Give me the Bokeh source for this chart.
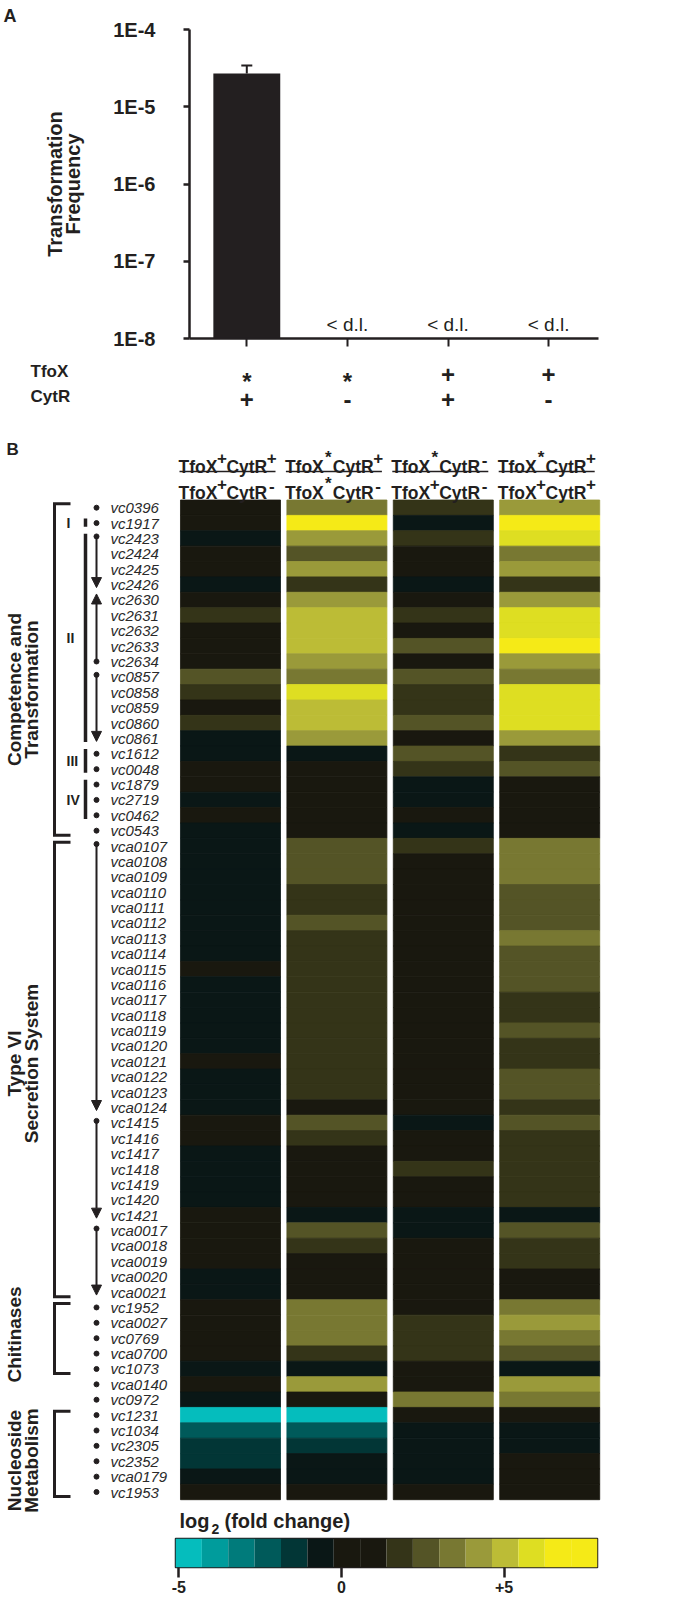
import numpy as np
from bokeh.plotting import figure
from bokeh.models import (Range1d, ColumnDataSource, LinearColorMapper,
                          FixedTicker, CustomJSTickFormatter, Arrow, NormalHead)
from bokeh.embed import file_html
from bokeh.resources import INLINE
from bokeh.core.properties import value

# ============================ DATA ============================
# ---- Panel A ----
A_TFOX = ["*", "*", "+", "+"]
A_CYTR = ["+", "-", "+", "-"]
A_ROW_NAMES = ["TfoX", "CytR"]
A_FREQ = [2.7e-5, None, None, None]
A_FREQ_UPPER = [3.42e-5, None, None, None]
A_DL_TEXT = "< d.l."
A_YTICKS = [1e-8, 1e-7, 1e-6, 1e-5, 1e-4]
A_YTITLE = "Transformation\nFrequency"

# ---- Panel B ----
GENES = ["vc0396", "vc1917", "vc2423", "vc2424", "vc2425", "vc2426", "vc2630",
         "vc2631", "vc2632", "vc2633", "vc2634", "vc0857", "vc0858", "vc0859",
         "vc0860", "vc0861", "vc1612", "vc0048", "vc1879", "vc2719", "vc0462",
         "vc0543",
         "vca0107", "vca0108", "vca0109", "vca0110", "vca0111", "vca0112",
         "vca0113", "vca0114", "vca0115", "vca0116", "vca0117", "vca0118",
         "vca0119", "vca0120", "vca0121", "vca0122", "vca0123", "vca0124",
         "vc1415", "vc1416", "vc1417", "vc1418", "vc1419", "vc1420", "vc1421",
         "vca0017", "vca0018", "vca0019", "vca0020", "vca0021",
         "vc1952", "vca0027", "vc0769", "vca0700", "vc1073", "vca0140", "vc0972",
         "vc1231", "vc1034", "vc2305", "vc2352", "vca0179", "vc1953"]

# header: (TfoX superscript, CytR superscript) for numerator / denominator
HEAD_TOP = [("+", "+"), ("*", "+"), ("*", "-"), ("*", "+")]
HEAD_BOTTOM = [("+", "-"), ("*", "-"), ("+", "-"), ("+", "+")]

# log2 fold change, one list per comparison column
LFC_1 = [0.3, 0.2, -0.6, 0.4, 0.3, -0.5, 0.2, 1.7, 0.4, 0.3, 0.5, 2.6, 1.8, 0.6,
         1.8, -0.5, -0.6, 0.3, 0.4, -0.5, 0.5, -0.6,
         -0.5, -0.6, -0.4, -0.5, -0.6, -0.5, -0.4, -0.5,
         0.2,
         -0.5, -0.6, -0.5, -0.4, -0.5,
         0.3,
         -0.5, -0.6, -0.5,
         0.3, 0.4,
         -0.5, -0.6, -0.5, -0.4,
         0.3, 0.2, 0.4, 0.3,
         -0.5, -0.6,
         0.4, 0.3, 0.5, 0.4,
         -0.6, 0.3, -0.5,
         -4.7, -2.2, -1.4, -1.5, -0.6, 0.4]
LFC_2 = [3.4, 6.9, 4.2, 2.6, 4.3, 1.8, 4.1, 5.0, 5.1, 4.9, 4.2, 3.5, 5.9, 5.0,
         5.1, 4.3, -0.6, 0.4, 0.5, 0.3, 0.6, 0.2,
         2.7, 2.5, 2.6, 1.9, 1.7, 2.6,
         1.8, 1.7, 1.9, 1.8, 1.6, 1.8, 1.9, 1.7, 1.8, 2.0, 1.8,
         0.5, 2.5, 1.8,
         0.6, 0.4, 0.5, 0.3,
         -0.5, 2.6, 1.7, 0.4, 0.5, 0.3,
         3.4, 3.5, 3.3, 1.8, -0.6, 4.2, 0.5,
         -4.8, -2.3, -1.5, -0.6, -0.5, 0.3]
LFC_3 = [1.8, -0.6, 1.7, 0.4, 0.3, -0.5, 0.5, 1.8, 0.6, 2.6, 0.4, 2.5, 1.9, 1.7,
         2.6, 0.5, 2.4, 1.8, -0.5, -0.6, 0.3, -0.5,
         1.8,
         0.3, 0.4, 0.5, 0.3, 0.2, 0.4, 0.3, 0.5, 0.4, 0.3, 0.2, 0.4, 0.5, 0.3,
         0.4, 0.3, 0.5,
         -0.5, 0.4, 0.5, 1.7, 0.5, 0.4,
         -0.6, -0.5,
         0.3, 0.4, 0.5, 0.3, 0.6,
         1.8, 1.7, 1.9, 0.4, 0.5, 3.4,
         0.4, -0.5, -0.6, -0.5, -0.4, 0.3]
LFC_4 = [4.2, 6.8, 5.8, 3.4, 4.2, 1.8, 4.1, 5.9, 5.8, 6.7, 4.3, 3.4, 5.8, 5.9,
         5.7, 4.2, 1.8, 2.6, 0.4, 0.5, 0.3, 0.4,
         3.4, 3.5, 3.3, 2.6, 2.5, 2.7, 3.4, 2.6, 2.5, 2.6, 1.8, 1.9, 2.6, 1.8,
         1.7, 2.6, 2.5, 1.8, 2.6, 1.8, 1.9,
         1.8, 1.7, 1.8,
         -0.5, 2.6, 1.8, 1.7, 0.4, 0.5,
         3.4, 4.2, 3.5, 2.6, -0.6, 4.3, 3.4,
         0.4, -0.5, -0.6, 0.3, 0.4, 0.5]

# operons: (first row, last row, direction of transcription)
OPERONS = [(2, 5, "down"), (6, 10, "up"), (11, 15, "down"),
           (22, 39, "down"), (40, 46, "down"), (47, 51, "down")]
SUBGROUPS = [("I", 1, 1), ("II", 2, 15), ("III", 16, 17), ("IV", 18, 20)]
CATEGORIES = [(["Competence and", "Transformation"], 0, 21),
              (["Type VI", "Secretion System"], 22, 51),
              (["Chitinases"], 52, 56),
              (["Nucleoside", "Metabolism"], 59, 64)]

PALETTE = ["#05bdbd", "#009c9c", "#007b7b", "#005a5a", "#023636", "#0a1716",
           "#19180f", "#19180f", "#343418", "#545426", "#787832", "#9a9a3a",
           "#bcbc36", "#dede22", "#f5ea17", "#f5ea17"]
CB_LOW, CB_HIGH = -5.10, 7.87
CB_TICKS = [-5, 0, 5]
CB_TITLE = ("log", "2", "(fold change)")

# ============================ STYLE ============================
INK = "#231f20"
FONT_NAME = "Liberation Sans"
FONT = value(FONT_NAME)
W = 699

# ============================ PANEL A ============================
A_SLOPE, A_X0 = 100.6, 246.3          # px per category, px of first category
DEC_PX, A_TOP_PX = 77.25, 29.0        # px per decade, px of 1E-4
A_HEIGHT = 357


def ax(px):
    return (px - A_X0) / A_SLOPE


def ay(py):
    return 10 ** (-4 - (py - A_TOP_PX) / DEC_PX)


pa = figure(width=W, height=A_HEIGHT, y_axis_type="log",
            x_range=Range1d(ax(189), ax(598)),
            y_range=Range1d(A_YTICKS[0], A_YTICKS[-1]),
            min_border_left=189, min_border_right=W - 598,
            min_border_top=29, min_border_bottom=A_HEIGHT - 338,
            output_backend="svg", toolbar_location=None)
pa.outline_line_color = None
pa.grid.visible = False

pa.title.text = "A"
pa.title.align = "left"
pa.title.offset = -186
pa.title.standoff = 7
pa.title.text_font = FONT_NAME
pa.title.text_font_style = "bold"
pa.title.text_font_size = "18px"
pa.title.text_color = INK

bar_x = [i for i, f in enumerate(A_FREQ) if f is not None]
bar_top = [A_FREQ[i] for i in bar_x]
err_top = [A_FREQ_UPPER[i] for i in bar_x]
pa.vbar(x=bar_x, top=bar_top, bottom=A_YTICKS[0], width=0.665,
        fill_color=INK, line_color=None)
pa.segment(x0=bar_x, x1=bar_x, y0=bar_top, y1=err_top,
           line_color=INK, line_width=2)
cap = 5.5 / A_SLOPE
pa.segment(x0=[x - cap for x in bar_x], x1=[x + cap for x in bar_x],
           y0=err_top, y1=err_top, line_color=INK, line_width=2)

dl_x = [i for i, f in enumerate(A_FREQ) if f is None]
pa.text(x=dl_x, y=[ay(324)] * len(dl_x), text=[A_DL_TEXT] * len(dl_x),
        text_align="center", text_baseline="alphabetic", text_font=FONT,
        text_font_size="19px", text_color=INK)

ya = pa.yaxis[0]
ya.ticker = FixedTicker(ticks=A_YTICKS)
ya.formatter = CustomJSTickFormatter(code="return '1E' + Math.round(Math.log10(tick));")
ya.major_label_text_font = FONT_NAME
ya.major_label_text_font_style = "bold"
ya.major_label_text_font_size = "20px"
ya.major_label_text_color = INK
ya.major_label_standoff = 28
ya.axis_line_width = 2.5
ya.axis_line_color = INK
ya.major_tick_out = 6
ya.major_tick_in = 0
ya.major_tick_line_width = 2.5
ya.major_tick_line_color = INK
ya.minor_tick_line_color = None
ya.axis_label = A_YTITLE
ya.axis_label_text_font = FONT_NAME
ya.axis_label_text_font_style = "bold"
ya.axis_label_text_font_size = "20px"
ya.axis_label_text_color = INK
ya.axis_label_text_line_height = 0.85
ya.axis_label_standoff = 26

xa = pa.xaxis[0]
xa.ticker = FixedTicker(ticks=list(range(len(A_TFOX))))
xa.formatter = CustomJSTickFormatter(code="return '';")
xa.major_label_text_font_size = "8px"
xa.major_label_standoff = 0
xa.axis_line_width = 2.5
xa.axis_line_color = INK
xa.major_tick_out = 8
xa.major_tick_in = 0
xa.major_tick_line_width = 2
xa.major_tick_line_color = INK
xa.minor_tick_line_color = None

# ============================ PANEL B ============================
COL_PX, COL0_PX = 106.4, 230.0     # px per column, px centre of column 0
ROW_PX, ROW0_PX = 15.38, 499.5     # px per row, px top of row 0
B_TOP, B_BOTTOM = A_HEIGHT, 1537   # page rows covered by this figure


def bx(px):
    return (px - COL0_PX) / COL_PX


def by(py):
    return (py - ROW0_PX) / ROW_PX


pb = figure(width=W, height=B_BOTTOM - B_TOP,
            x_range=Range1d(bx(0), bx(W)),
            y_range=Range1d(by(B_BOTTOM), by(B_TOP)),
            x_axis_location=None, y_axis_location=None, min_border=0,
            output_backend="svg", toolbar_location=None)
pb.outline_line_color = None
pb.grid.visible = False
pb.extra_x_ranges = {"cat": Range1d(ax(0), ax(W))}

# --- panel A genotype table (drawn on panel A's categorical scale) ---
SYM_SHIFT = {"+": 0, "-": 0, "*": 7}
for syms, base in [(A_TFOX, 373.5), (A_CYTR, 399.0)]:
    pb.text(x=list(range(len(syms))), y=[by(base + SYM_SHIFT[s]) for s in syms],
            text=syms, x_range_name="cat", text_align="center",
            text_baseline="alphabetic", text_font=FONT, text_font_style="bold",
            text_font_size="24px", text_color=INK)
pb.text(x=[bx(30)] * 2, y=[by(371), by(396)], text=A_ROW_NAMES,
        text_align="left", text_baseline="alphabetic", text_font=FONT,
        text_font_style="bold", text_font_size="17px", text_color=INK)

pb.text(x=[bx(6)], y=[by(449)], text=["B"], text_align="left",
        text_baseline="alphabetic", text_font=FONT, text_font_style="bold",
        text_font_size="17px", text_color=INK)

# --- heatmap ---
cols = [LFC_1, LFC_2, LFC_3, LFC_4]
hx, hy, hv = [], [], []
for k, vals in enumerate(cols):
    for i, v in enumerate(vals):
        hx.append(k)
        hy.append(i + 0.5)
        hv.append(v)
mapper = LinearColorMapper(palette=PALETTE, low=CB_LOW, high=CB_HIGH)
cmap = {"field": "v", "transform": mapper}
pb.rect(x="x", y="y", width=0.94, height=1.0,
        source=ColumnDataSource(dict(x=hx, y=hy, v=hv)),
        fill_color=cmap, line_color=cmap, line_width=0.8)

# --- column headers ---
HEAD_FS, SUP_FS = 17.5, 17
W_TFOX, W_CYTR, SUP_SLOT = 2.222 * HEAD_FS, 2.333 * HEAD_FS, 9.0
SUP_RAISE = {"+": 9, "*": 9, "-": 7}
mx, my, mt, sx, sy, st, ux0, ux1, uy = [], [], [], [], [], [], [], [], []
for k in range(len(cols)):
    for sups, base in [(HEAD_TOP[k], 466), (HEAD_BOTTOM[k], 492)]:
        x0 = -52
        offs_main = [0, W_TFOX + SUP_SLOT]
        offs_sup = [W_TFOX + SUP_SLOT / 2, W_TFOX + SUP_SLOT + W_CYTR + SUP_SLOT / 2]
        for t, o in zip(["TfoX", "CytR"], offs_main):
            mx.append(k + (x0 + o) / COL_PX)
            my.append(by(base))
            mt.append(t)
        for s, o in zip(sups, offs_sup):
            sx.append(k + (x0 + o) / COL_PX)
            sy.append(by(base - SUP_RAISE[s]))
            st.append(s)
    ux0.append(k + (-52 + 1) / COL_PX)
    ux1.append(k + (-52 + 97) / COL_PX)
    uy.append(by(471))
pb.text(x=mx, y=my, text=mt, text_align="left", text_baseline="alphabetic",
        text_font=FONT, text_font_style="bold", text_font_size=f"{HEAD_FS}px",
        text_color=INK)
pb.text(x=sx, y=sy, text=st, text_align="center", text_baseline="alphabetic",
        text_font=FONT, text_font_style="bold", text_font_size=f"{SUP_FS}px",
        text_color=INK)
pb.segment(x0=ux0, x1=ux1, y0=uy, y1=uy, line_color=INK, line_width=1.4)

# --- gene labels ---
pb.text(x=[bx(110)] * len(GENES), y=[i + 0.5 for i in range(len(GENES))],
        text=GENES, text_align="left", text_baseline="middle", text_font=FONT,
        text_font_style="italic", text_font_size="15px", text_color="#2a2a2a")

# --- operon arrows and gene dots ---
GX = bx(96)
no_dot = set()
tail_y = []
for s, e, d in OPERONS:
    no_dot.update(range(s, e + 1))
    if d == "down":
        t, h = s + 0.5 - 2 / ROW_PX, e + 0.5 + 3 / ROW_PX
    else:
        h, t = s + 0.5 - 6 / ROW_PX, e + 0.5
    tail_y.append(t)
    pb.add_layout(Arrow(x_start=GX, y_start=t, x_end=GX, y_end=h,
                        line_color=INK, line_width=2,
                        end=NormalHead(size=10, fill_color=INK, line_color=INK,
                                       line_width=1)))
dot_y = [i + 0.5 for i in range(len(GENES)) if i not in no_dot] + tail_y
pb.scatter(x=[GX] * len(dot_y), y=dot_y, size=5, color=INK)

# --- sub-group bars (I-IV) ---
pb.segment(x0=[bx(85)] * len(SUBGROUPS), x1=[bx(85)] * len(SUBGROUPS),
           y0=[s + 3 / ROW_PX for _, s, e in SUBGROUPS],
           y1=[e + 1 - 4 / ROW_PX for _, s, e in SUBGROUPS],
           line_color=INK, line_width=3.5)
pb.text(x=[bx(66)] * len(SUBGROUPS), y=[(s + e + 1) / 2 for _, s, e in SUBGROUPS],
        text=[n for n, _, _ in SUBGROUPS], text_align="left",
        text_baseline="middle", text_font=FONT, text_font_style="bold",
        text_font_size="14px", text_color=INK)

# --- category brackets and labels ---
CAT_LABEL_Y = [689, 1063, 1334, 1460]
bxs, bys = [], []
lx, ly, lt = [], [], []
for (lines, s, e), cy in zip(CATEGORIES, CAT_LABEL_Y):
    top, bot = s + 0.25, e + 0.8
    bxs.append([bx(70), bx(54), bx(54), bx(70)])
    bys.append([top, top, bot, bot])
    for j, line in enumerate(lines):
        lx.append(bx(14 + 17 * j))
        ly.append(by(cy))
        lt.append(line)
pb.multi_line(xs=bxs, ys=bys, line_color=INK, line_width=3, line_join="miter")
pb.text(x=lx, y=ly, text=lt, angle=np.pi / 2, text_align="center",
        text_baseline="middle", text_font=FONT, text_font_style="bold",
        text_font_size="19px", text_color=INK)

# --- colour-bar title ---
pb.text(x=[bx(179), bx(211), bx(224)], y=[by(1520), by(1528), by(1520)],
        text=list(CB_TITLE), text_align="left", text_baseline="alphabetic",
        text_font=FONT, text_font_style="bold",
        text_font_size=["20px", "14px", "20px"], text_color=INK)

# ============================ COLOUR BAR ============================
C_HEIGHT = 1600 - B_BOTTOM
edges = np.linspace(CB_LOW, CB_HIGH, len(PALETTE) + 1)
pc = figure(width=W, height=C_HEIGHT, x_range=Range1d(CB_LOW, CB_HIGH),
            y_range=Range1d(0, 1), min_border_left=175, min_border_right=W - 597,
            min_border_top=1, min_border_bottom=1600 - 1567,
            y_axis_location=None, output_backend="svg", toolbar_location=None)
pc.quad(left=edges[:-1], right=edges[1:], bottom=0, top=1,
        fill_color=PALETTE, line_color=None)
pc.outline_line_color = INK
pc.outline_line_width = 1.5
pc.grid.visible = False
ca = pc.xaxis[0]
ca.ticker = FixedTicker(ticks=CB_TICKS)
ca.formatter = CustomJSTickFormatter(code="return tick > 0 ? '+' + tick : String(tick);")
ca.axis_line_color = None
ca.major_tick_out = 10
ca.major_tick_in = 0
ca.major_tick_line_width = 2.5
ca.major_tick_line_color = INK
ca.minor_tick_line_color = None
ca.major_label_text_font = FONT_NAME
ca.major_label_text_font_style = "bold"
ca.major_label_text_font_size = "16px"
ca.major_label_text_color = INK
ca.major_label_standoff = 3

open("out.html", "w").write(file_html([pa, pb, pc], INLINE, "chart"))
